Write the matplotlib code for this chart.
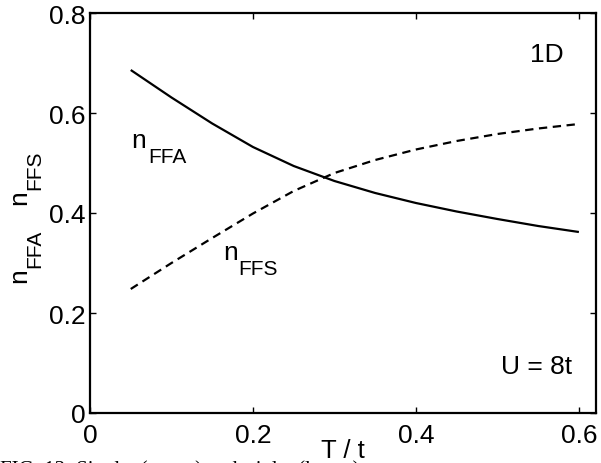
import matplotlib
matplotlib.use("Agg")
import matplotlib.pyplot as plt

plt.rcParams['font.family'] = ['Liberation Sans', 'DejaVu Sans']
plt.rcParams['lines.scale_dashes'] = False

# Data
T = [0.05, 0.1, 0.15, 0.2, 0.25, 0.3, 0.35, 0.4, 0.45, 0.5, 0.55, 0.6]
n_ffa = [0.686, 0.631, 0.579, 0.532, 0.494, 0.464, 0.440, 0.420, 0.403, 0.388, 0.374, 0.362]
n_ffs = [0.248, 0.300, 0.350, 0.399, 0.444, 0.480, 0.506, 0.527, 0.544, 0.558, 0.569, 0.578]
xticks = [0, 0.2, 0.4, 0.6]
xticklabels = ['0', '0.2', '0.4', '0.6']
yticks = [0, 0.2, 0.4, 0.6, 0.8]
yticklabels = ['0', '0.2', '0.4', '0.6', '0.8']

W, H = 601, 464
MAIN = 19
SUB = 15

fig = plt.figure(figsize=(W / 100, H / 100), dpi=100)
ax = fig.add_axes([90 / W, 50 / H, 506 / W, 400 / H])


def px(x, y):
    """pixel position (from top-left) -> figure fraction"""
    return x / W, 1 - y / H


ax.plot(T, n_ffa, color='black', lw=1.6, solid_capstyle='butt')
ax.plot(T, n_ffs, color='black', lw=1.6, dashes=(6, 4))

ax.set_xlim(0, 0.621)
ax.set_ylim(0, 0.8)
ax.set_xticks(xticks)
ax.set_xticklabels(xticklabels)
ax.set_yticks(yticks)
ax.set_yticklabels(yticklabels)
ax.tick_params(direction='in', top=True, right=True, length=4, width=1,
               labelsize=MAIN)
ax.tick_params(axis='x', pad=7)
ax.tick_params(axis='y', pad=3.5)
for s in ax.spines.values():
    s.set_linewidth(1.6)

# x label
ax.set_xlabel('T / t', fontsize=MAIN - 0.5)
ax.xaxis.set_label_coords(0.5, -0.062)

# y label: "n_FFA   n_FFS" (rotated), built from separate texts
fig.text(*px(7, 283), 'n', fontsize=MAIN, rotation=90, ha='left', va='bottom')
fig.text(*px(25, 268), 'FFA', fontsize=SUB, rotation=90, ha='left', va='bottom')
fig.text(*px(7, 205), 'n', fontsize=MAIN, rotation=90, ha='left', va='bottom')
fig.text(*px(25, 190), 'FFS', fontsize=SUB, rotation=90, ha='left', va='bottom')

# annotations
ax.text(0.561, 0.718, '1D', fontsize=MAIN, ha='center', va='center')
ax.text(0.548, 0.094, 'U = 8t', fontsize=MAIN, ha='center', va='center')
ax.text(0.051, 0.532, 'n', fontsize=MAIN, ha='left', va='baseline')
ax.text(0.071, 0.502, 'FFA', fontsize=SUB, ha='left', va='baseline')
ax.text(0.163, 0.308, 'n', fontsize=MAIN, ha='left', va='baseline')
ax.text(0.182, 0.278, 'FFS', fontsize=SUB, ha='left', va='baseline')

# cut-off caption at the bottom edge
fig.text(*px(0, 460), 'FIG. 13: Singlet (upper) and triplet (lower)',
         family='Liberation Serif', fontsize=15, ha='left', va='top')

fig.savefig('out.png', dpi=100)
